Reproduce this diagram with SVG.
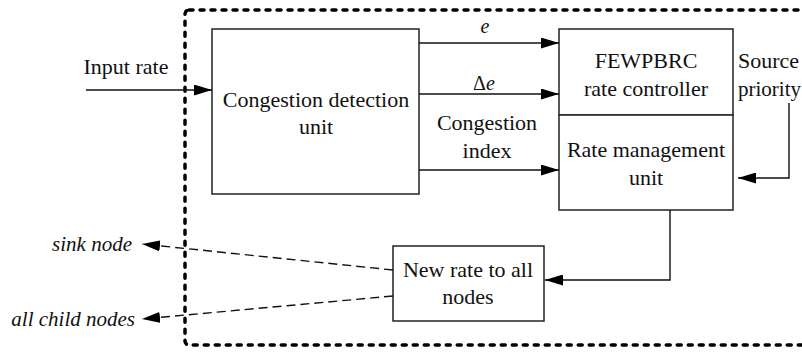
<svg xmlns="http://www.w3.org/2000/svg" width="802" height="354" viewBox="0 0 802 354">
<style>
text{font-family:"Liberation Serif","Times New Roman",serif;fill:#111}
.t{font-size:22px}
.it{font-style:italic}
.box{fill:#fff;stroke:#222;stroke-width:1.5}
.c{fill:none;stroke:#111;stroke-width:1.4}
.d{fill:none;stroke:#111;stroke-width:1.4;stroke-dasharray:9 5}
.border{fill:none;stroke:#000;stroke-width:3.5;stroke-dasharray:4 7;stroke-linecap:round}
</style>
<defs>
<marker id="ah" markerUnits="userSpaceOnUse" markerWidth="19" markerHeight="11" refX="18" refY="5.5" orient="auto">
<path d="M0,0 L18,5.5 L0,11 z" fill="#000"/>
</marker>
</defs>
<rect width="802" height="354" fill="#fff"/>
<rect class="border" x="185" y="10" width="640" height="335" rx="4"/>

<g id="input-label">
<text class="t" x="126" y="74" text-anchor="middle">Input rate</text>
</g>

<g id="congestion-detection">
<rect class="box" x="212" y="29" width="207" height="165"/>
<text class="t" x="316" y="107" text-anchor="middle">Congestion detection</text>
<text class="t" x="316" y="134" text-anchor="middle">unit</text>
</g>

<g id="fewpbrc">
<rect class="box" x="559" y="29" width="174" height="86"/>
<text class="t" x="646" y="68" text-anchor="middle">FEWPBRC</text>
<text class="t" x="646" y="96" text-anchor="middle">rate controller</text>
</g>

<g id="rate-management">
<rect class="box" x="559" y="115" width="174" height="95"/>
<text class="t" x="646" y="157" text-anchor="middle">Rate management</text>
<text class="t" x="646" y="185" text-anchor="middle">unit</text>
</g>

<g id="source-priority">
<text class="t" x="738" y="68">Source</text>
<text class="t" x="738" y="96" font-size="21" style="font-size:21px">priority</text>
</g>

<g id="new-rate">
<rect class="box" x="393" y="246" width="151" height="75"/>
<text class="t" x="468" y="277" text-anchor="middle">New rate to all</text>
<text class="t" x="468" y="304" text-anchor="middle">nodes</text>
</g>

<g id="sink-node">
<text class="it" font-size="21" x="132" y="251" text-anchor="end">sink node</text>
</g>

<g id="all-child-nodes">
<text class="it" font-size="21" x="135" y="326" text-anchor="end">all child nodes</text>
</g>

<g id="connectors">
<line class="c" x1="86" y1="90" x2="212" y2="90" marker-end="url(#ah)"/>
<line class="c" x1="419" y1="43" x2="559" y2="43" marker-end="url(#ah)"/>
<line class="c" x1="419" y1="94" x2="559" y2="94" marker-end="url(#ah)"/>
<line class="c" x1="419" y1="170" x2="559" y2="170" marker-end="url(#ah)"/>
<polyline class="c" points="789,103 789,178 738,178" marker-end="url(#ah)"/>
<polyline class="c" points="670,210 670,280 545,280" marker-end="url(#ah)"/>
<line class="d" x1="393" y1="270" x2="142" y2="244" marker-end="url(#ah)"/>
<line class="d" x1="393" y1="296" x2="142" y2="319" marker-end="url(#ah)"/>
<text class="it" font-size="20" x="485" y="33" text-anchor="middle">e</text>
<text font-size="20" x="484" y="90" text-anchor="middle">&#x394;<tspan class="it">e</tspan></text>
<text class="t" x="487" y="130" text-anchor="middle">Congestion</text>
<text class="t" x="487" y="158" text-anchor="middle">index</text>
</g>
</svg>
